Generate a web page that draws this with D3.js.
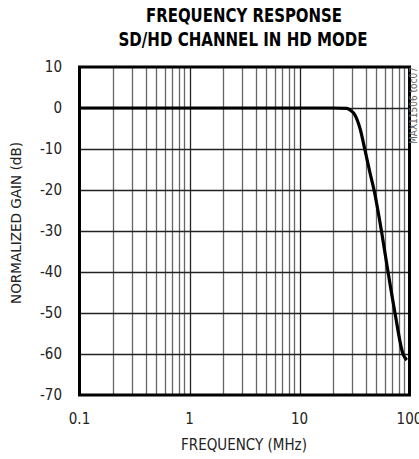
<!DOCTYPE html>
<html>
<head>
<meta charset="utf-8">
<script src="https://cdn.jsdelivr.net/npm/d3@7"></script>
<style>
  body { margin: 0; background: #fff; }
  text { font-family: "Liberation Sans Narrow", "DejaVu Sans Condensed", sans-serif; }
</style>
</head>
<body>
<script>
// frequency response, MHz vs normalized gain dB
var freq = [0.1, 1, 10, 20, 26.9, 28.8, 31.9, 35.5, 39.4, 43.3, 47.6, 55.6, 63.8, 73.8, 87.3, 94.4];
var gain = [0, 0, 0, 0, -0.1, -0.5, -1.7, -5, -10.3, -15.3, -20, -30, -40, -50, -60, -61.5];
var yTicks = [10, 0, -10, -20, -30, -40, -50, -60, -70];
var xTicks = [0.1, 1, 10, 100];

var width = 419, height = 459;
var margin = {left: 79.5, right: 9.5, top: 67, bottom: 64};

var svg = d3.select('body').append('svg').attr('width', width).attr('height', height);

var x = d3.scaleLog().domain([0.1, 100]).range([margin.left, width - margin.right]);
var y = d3.scaleLinear().domain([-70, 10]).range([height - margin.bottom, margin.top]);

// minor vertical grid
var minor = [];
[0.1, 1, 10].forEach(function(d){ for (var k = 2; k <= 9; k++) minor.push(d * k); });
svg.append('g').selectAll('line').data(minor).enter().append('line')
  .attr('x1', function(d){ return Math.round(x(d)) + 0.5; })
  .attr('x2', function(d){ return Math.round(x(d)) + 0.5; })
  .attr('y1', y(10)).attr('y2', y(-70))
  .attr('stroke', '#666').attr('stroke-width', 1.3);

svg.append('g').selectAll('line').data([1, 10]).enter().append('line')
  .attr('x1', function(d){ return Math.round(x(d)) + 0.5; })
  .attr('x2', function(d){ return Math.round(x(d)) + 0.5; })
  .attr('y1', y(10)).attr('y2', y(-70))
  .attr('stroke', '#222').attr('stroke-width', 1.3);

svg.append('g').selectAll('line').data(yTicks.slice(1, -1)).enter().append('line')
  .attr('x1', x(0.1)).attr('x2', x(100))
  .attr('y1', function(d){ return Math.round(y(d)) + 0.5; })
  .attr('y2', function(d){ return Math.round(y(d)) + 0.5; })
  .attr('stroke', '#222').attr('stroke-width', 1.3);

// frame
svg.append('rect')
  .attr('x', x(0.1)).attr('y', y(10))
  .attr('width', x(100) - x(0.1)).attr('height', y(-70) - y(10))
  .attr('fill', 'none').attr('stroke', '#000').attr('stroke-width', 3);

// curve
var line = d3.line()
  .x(function(d, i){ return x(freq[i]); })
  .y(function(d, i){ return y(gain[i]); })
  .curve(d3.curveMonotoneX);
svg.append('path').attr('d', line(freq))
  .attr('fill', 'none').attr('stroke', '#000').attr('stroke-width', 3.2)
  .attr('stroke-linejoin', 'round');

// tick labels
svg.append('g').selectAll('text').data(yTicks).enter().append('text')
  .attr('x', 62).attr('y', function(d){ return y(d) + 5; })
  .attr('text-anchor', 'end').attr('font-size', 15).attr('fill', '#222')
  .text(function(d){ return d; });

svg.append('g').selectAll('text').data(xTicks).enter().append('text')
  .attr('x', function(d){ return x(d); }).attr('y', 424)
  .attr('text-anchor', 'middle').attr('font-size', 15).attr('fill', '#222')
  .text(function(d){ return d; });

// titles
svg.append('text').attr('x', 244).attr('y', 22).attr('text-anchor', 'middle')
  .attr('font-size', 19).attr('font-weight', 'bold')
  .attr('textLength', 196).attr('lengthAdjust', 'spacingAndGlyphs')
  .text('FREQUENCY RESPONSE');
svg.append('text').attr('x', 243).attr('y', 46).attr('text-anchor', 'middle')
  .attr('font-size', 19).attr('font-weight', 'bold')
  .attr('textLength', 249).attr('lengthAdjust', 'spacingAndGlyphs')
  .text('SD/HD CHANNEL IN HD MODE');

svg.append('text').attr('x', 244).attr('y', 450).attr('text-anchor', 'middle')
  .attr('font-size', 15).attr('fill', '#222').text('FREQUENCY (MHz)');
svg.append('text').attr('transform', 'translate(21,223) rotate(-90)')
  .attr('text-anchor', 'middle').attr('font-size', 14).attr('fill', '#222')
  .attr('textLength', 162).attr('lengthAdjust', 'spacingAndGlyphs')
  .text('NORMALIZED GAIN (dB)');

svg.append('text').attr('transform', 'translate(417,67) rotate(-90)')
  .attr('text-anchor', 'end').attr('font-size', 10).attr('fill', '#666')
  .text('MAX11506 toc07');
</script>
</body>
</html>
